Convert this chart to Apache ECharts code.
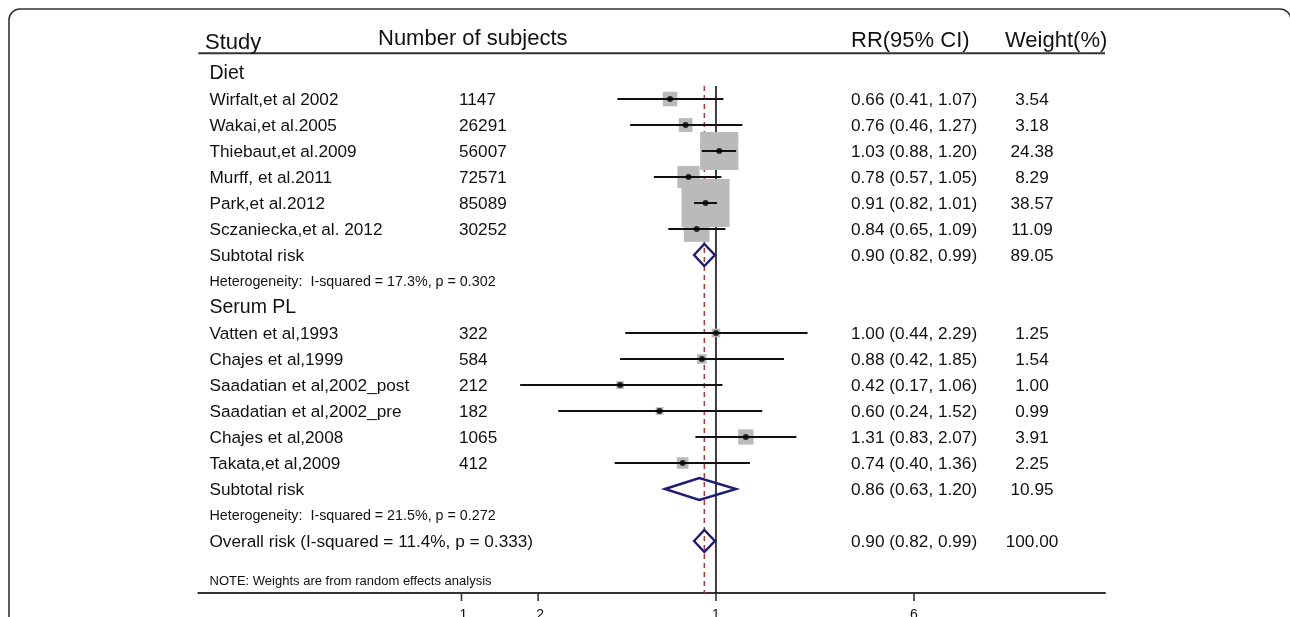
<!DOCTYPE html>
<html><head><meta charset="utf-8">
<script src="https://cdn.jsdelivr.net/npm/echarts@6/dist/echarts.min.js"></script>
<style>html,body{margin:0;padding:0;background:#fff}#c{width:1290px;height:617px}</style>
</head><body><div id="c"></div>
<script>
// ---------- data ----------
const studies = ["Wirfalt,et al 2002","Wakai,et al.2005","Thiebaut,et al.2009","Murff, et al.2011","Park,et al.2012","Sczaniecka,et al. 2012",
  "Vatten et al,1993","Chajes et al,1999","Saadatian et al,2002_post","Saadatian et al,2002_pre","Chajes et al,2008","Takata,et al,2009"];
const subjects = [1147,26291,56007,72571,85089,30252,322,584,212,182,1065,412];
const rr    = [0.66,0.76,1.03,0.78,0.91,0.84,1.00,0.88,0.42,0.60,1.31,0.74];
const lower = [0.41,0.46,0.88,0.57,0.82,0.65,0.44,0.42,0.17,0.24,0.83,0.40];
const upper = [1.07,1.27,1.20,1.05,1.01,1.09,2.29,1.85,1.06,1.52,2.07,1.36];
const weight= [3.54,3.18,24.38,8.29,38.57,11.09,1.25,1.54,1.00,0.99,3.91,2.25];
const studyRows = [1,2,3,4,5,6,10,11,12,13,14,15];

const groupNames = ["Diet","Serum PL"];
const groupRows = [0,9];

const subLabels = ["Subtotal risk","Subtotal risk","Overall risk (I-squared = 11.4%, p = 0.333)"];
const subRR = [0.90,0.86,0.90];
const subLo = [0.82,0.63,0.82];
const subHi = [0.99,1.20,0.99];
const subW  = [89.05,10.95,100.00];
const subRows = [7,16,18];

const hetTexts = ["Heterogeneity:  I-squared = 17.3%, p = 0.302","Heterogeneity:  I-squared = 21.5%, p = 0.272"];
const hetRows = [8,17];

const noteText = "NOTE: Weights are from random effects analysis";
const noteRow = 19.5;

const headers = ["Study","Number of subjects","RR(95% CI)","Weight(%)"];
const tickValues = [0.1,0.2,1,6];
const tickLabels = [".1",".2","1","6"];
const nullValue = 1;
const overallValue = 0.90;

// ---------- layout / style ----------
const FONT = "'Liberation Sans', Arial, Helvetica, sans-serif";
const COL_STUDY = 209.5, COL_N = 459, COL_RR = 851, COL_W = 1032;
const fmt = v => v.toFixed(2);
const ciText = (e,l,h) => fmt(e) + " (" + fmt(l) + ", " + fmt(h) + ")";

const textData = [];
groupRows.forEach((r,i)=>textData.push([1,r,0,i]));
studyRows.forEach((r,i)=>textData.push([1,r,1,i]));
subRows.forEach((r,i)=>textData.push([1,r,2,i]));
hetRows.forEach((r,i)=>textData.push([1,r,3,i]));
textData.push([1,noteRow,4,0]);

function txt(x,y,text,size,align){
  return {type:'text', x:x, y:y, style:{text:text, fill:'#111', fontSize:size, fontFamily:FONT, align:align||'left', verticalAlign:'middle'}};
}

const chart = echarts.init(document.getElementById('c'), null, {renderer:'canvas'});
const option = {
  backgroundColor:'#fff',
  animation:false,
  grid:{left:198.3, right:185, top:47, bottom:24, containLabel:false},
  xAxis:{type:'log', logBase:10, min:0.009243, max:33.78,
    axisLine:{show:true, onZero:false, lineStyle:{color:'#333', width:2}},
    axisTick:{show:false}, axisLabel:{show:false}, splitLine:{show:false}},
  yAxis:{type:'value', min:-1, max:20, inverse:true, show:false},
  graphic:[
    {type:'rect', shape:{x:9,y:9,width:1282,height:700,r:11}, style:{fill:'none', stroke:'#333', lineWidth:1.6}, z:0},
    {type:'line', shape:{x1:198.3,y1:53.3,x2:1105,y2:53.3}, style:{stroke:'#333', lineWidth:2}},
    {type:'text', x:205, y:43, style:{text:headers[0], fontSize:22, fontFamily:FONT, fill:'#111', verticalAlign:'middle'}},
    {type:'text', x:378, y:38.5, style:{text:headers[1], fontSize:22, fontFamily:FONT, fill:'#111', verticalAlign:'middle'}},
    {type:'text', x:851, y:40.5, style:{text:headers[2], fontSize:22, fontFamily:FONT, fill:'#111', verticalAlign:'middle'}},
    {type:'text', x:1005, y:40.5, style:{text:headers[3], fontSize:22, fontFamily:FONT, fill:'#111', verticalAlign:'middle'}}
  ],
  series:[
    {type:'line', data:[[nullValue,0.5],[nullValue,20]], symbol:'none', lineStyle:{color:'#111', width:1.6}, z:1, silent:true},
    {type:'line', data:[[overallValue,0.5],[overallValue,20]], symbol:'none', lineStyle:{color:'#a83a3a', width:1.5, type:[5,4]}, z:1, silent:true},
    {type:'scatter', data:rr.map((v,i)=>[v,studyRows[i],weight[i]]), symbol:'rect',
      symbolSize:(val)=>7.73*Math.sqrt(val[2]), itemStyle:{color:'#bababa', opacity:1}, z:2, silent:true},
    {type:'custom', z:3, clip:false, data:rr.map((v,i)=>[lower[i],studyRows[i],upper[i]]),
      renderItem:(p,api)=>{const a=api.coord([api.value(0),api.value(1)]), b=api.coord([api.value(2),api.value(1)]);
        return {type:'line', shape:{x1:a[0],y1:a[1],x2:b[0],y2:b[1]}, style:{stroke:'#111', lineWidth:2}};}},
    {type:'scatter', data:rr.map((v,i)=>[v,studyRows[i]]), symbol:'circle', symbolSize:6, itemStyle:{color:'#000'}, z:4, silent:true},
    {type:'custom', z:4, clip:false, data:subRR.map((v,i)=>[v,subRows[i],subLo[i],subHi[i]]),
      renderItem:(p,api)=>{const c=api.coord([api.value(0),api.value(1)]), l=api.coord([api.value(2),api.value(1)]), h=api.coord([api.value(3),api.value(1)]);
        const hh=11;
        return {type:'polygon', shape:{points:[[l[0],c[1]],[c[0],c[1]-hh],[h[0],c[1]],[c[0],c[1]+hh]]}, style:{fill:'none', stroke:'#1c1c78', lineWidth:2.4}};}},
    {type:'custom', z:5, clip:false, data:tickValues.map((v,i)=>[v,20,i]),
      renderItem:(p,api)=>{const c=api.coord([api.value(0),api.value(1)]); const i=api.value(2);
        return {type:'group', children:[
          {type:'line', shape:{x1:c[0],y1:c[1],x2:c[0],y2:c[1]+8}, style:{stroke:'#333', lineWidth:1.6}},
          {type:'text', x:c[0], y:c[1]+15, style:{text:tickLabels[i], fill:'#111', fontSize:14, fontFamily:FONT, align:'center', verticalAlign:'top'}}
        ]};}},
    {type:'custom', z:6, clip:false, data:textData,
      renderItem:(p,api)=>{const y=api.coord([1,api.value(1)])[1]; const k=api.value(2), i=api.value(3);
        let ch=[];
        if(k===0){ ch.push(txt(COL_STUDY,y+1,groupNames[i],19.5)); }
        else if(k===1){ ch.push(txt(COL_STUDY,y+1,studies[i],17.2)); ch.push(txt(COL_N,y+1,String(subjects[i]),17.2));
          ch.push(txt(COL_RR,y+1,ciText(rr[i],lower[i],upper[i]),17.2)); ch.push(txt(COL_W,y+1,fmt(weight[i]),17.2,'center')); }
        else if(k===2){ ch.push(txt(COL_STUDY,y+1,subLabels[i],17.2)); ch.push(txt(COL_RR,y+1,ciText(subRR[i],subLo[i],subHi[i]),17.2));
          ch.push(txt(COL_W,y+1,fmt(subW[i]),17.2,'center')); }
        else if(k===3){ ch.push(txt(COL_STUDY,y+1,hetTexts[i],14.3)); }
        else { ch.push(txt(COL_STUDY,y+1,noteText,13)); }
        return {type:'group', children:ch};}}
  ]
};
chart.setOption(option);
</script>
</body></html>
